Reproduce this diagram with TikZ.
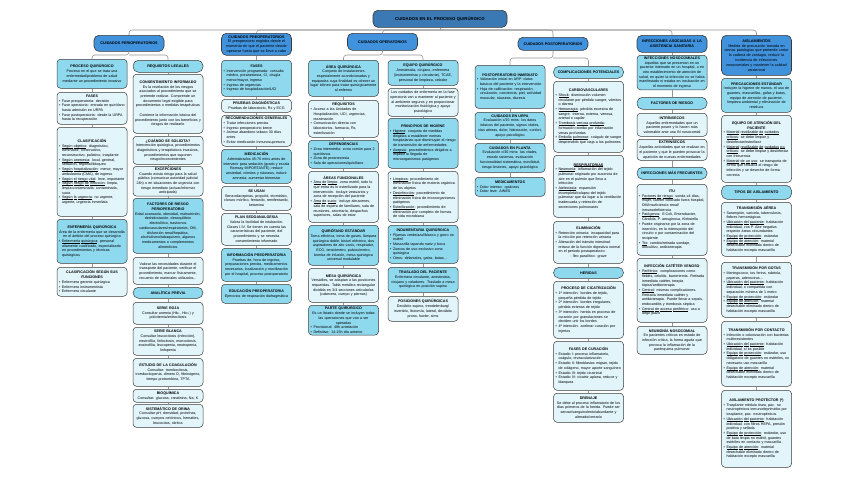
\documentclass[tikz,border=0pt]{standalone}
\usepackage{fontspec}
\setmainfont{Liberation Sans}
\usetikzlibrary{calc, positioning}

\definecolor{titblue}{HTML}{3A79B4}
\definecolor{hdrblue}{HTML}{4092DC}
\definecolor{cyanbox}{HTML}{8FD9EF}
\definecolor{lightbox}{HTML}{E1F5FB}
\definecolor{edge}{HTML}{3A3A3A}
\definecolor{wire}{HTML}{959595}

% box title and bullet item
\newcommand{\ttl}[1]{\centering{\bfseries #1}\par}
\newcommand{\itm}[1]{{\par\raggedright\hangindent=3pt\hangafter=1\noindent\hbox to 3pt{\textbullet\hfil}#1\par}}
% underline word by word, so that lines can still break
\makeatletter
\def\undl#1{\undl@a#1 \@nil}
\def\undl@a#1 #2\@nil{\undl@w{#1}\ifx\relax#2\relax\else\ \undl@a#2\@nil\fi}
\def\undl@w#1{\setbox0\hbox{#1}\rlap{\rule[-0.7pt]{\wd0}{0.22pt}}\box0}
\makeatother

\tikzset{
  mapbox/.style={draw=edge, line width=0.5pt, rounded corners=3.5pt, anchor=north,
    inner xsep=2pt, inner ysep=1.5pt, text width=66pt,
    font=\fontsize{3.65}{4.7}\selectfont, execute at begin node=\centering},
  cbox/.style={mapbox, fill=cyanbox},
  lbox/.style={mapbox, fill=lightbox},
  pill/.style={mapbox, fill=cyanbox, rounded corners=5.5pt, font=\fontsize{3.7}{4.7}\selectfont\bfseries},
  hdr/.style={mapbox, fill=hdrblue, line width=0.65pt, rounded corners=5pt, font=\fontsize{3.75}{4.8}\selectfont},
  link/.style={draw=wire, line width=0.6pt, rounded corners=3pt},
  boxh/.style={minimum height=#1pt},
}

\begin{document}
\begin{tikzpicture}[x=1pt, y=-1pt]
  \path[fill=white] (0,0) rectangle (848,477);
  \useasboundingbox (0,0) rectangle (848,477);

  % Title and main branches
  \node[hdr, fill=titblue, text width=130pt, boxh=17, font=\fontsize{4.3}{5}\selectfont\bfseries] (title) at (440,10) {CUIDADOS EN EL PROCESO QUIRÚRGICO};
  \node[hdr, boxh=16, font=\fontsize{3.75}{4.8}\selectfont\bfseries] (periop) at (129,35) {CUIDADOS PERIOPERATORIOS};
  \node[hdr, boxh=22] (preop) at (256.5,33) {\ttl{CUIDADOS PREOPERATORIOS}El preoperatorio engloba desde el momento en que el paciente decide operarse hasta que se lleve a cabo};
  \node[hdr, boxh=17, font=\fontsize{3.75}{4.8}\selectfont\bfseries] (operat) at (382.5,33) {CUIDADOS OPERATORIOS};
  \node[hdr, boxh=13, font=\fontsize{3.75}{4.8}\selectfont\bfseries] (postop) at (553,37) {CUIDADOS POSTOPERATORIOS};
  \node[hdr, boxh=17, font=\fontsize{3.75}{4.8}\selectfont\bfseries] (infasist) at (672,35) {INFECCIONES ASOCIADAS A LA\\ASISTENCIA SANITARIA};
  \node[hdr, boxh=40] (aisl) at (756.5,35) {\ttl{AISLAMIENTOS}Medida de precaución tomada en ciertas patologías que pretende cortar la cadena de contagio, reducir la incidencia de infecciones nosocomiales y mantener la calidad asistencial};

  % Perioperatorios: proceso quirurgico
  \node[cbox, boxh=29] (procq) at (92,59) {\ttl{PROCESO QUIRÚRGICO}Proceso en el que se trata una enfermedad/problema de salud mediante un procedimiento invasivo};
  \node[lbox, boxh=32] (fasesA) at (92,92) {\ttl{FASES}\itm{Fase preoperatoria: decisión}\itm{Fase operatoria: entrada en quirófano hasta admisión en URPA}\itm{Fase postoperatoria: desde la URPA hasta la recuperación}};
  \node[lbox, boxh=89] (clasif) at (92,127) {\ttl{CLASIFICACIÓN}\itm{\undl{Según objetivo}: diagnóstico, eliminador, constructivo, reconstructivo, paliativo, trasplante}\itm{\undl{Según anestesia}: local, general, sedación, regional/bloqueo}\itm{\undl{Según hospitalización}: menor, mayor ambulatoria (CMA), de ingreso}\itm{\undl{Según el riesgo vital}: leve, importante}\itm{\undl{Según riesgo de infección}: limpia, limpia-contaminada, contaminada, sucia}\itm{\undl{Según la urgencia}: no urgente, urgente, urgencia inmediata}};
  \node[cbox, boxh=44] (enfq) at (92,219) {\ttl{ENFERMERÍA QUIRÚRGICA}Área de la enfermería que se desarrolla en el ámbito del proceso quirúrgico\itm{\undl{Enfermería quirúrgica}: personal altamente cualificado, especializado en procedimientos y técnicas quirúrgicas}};
  \node[lbox, boxh=29] (clasfun) at (92,267) {\ttl{CLASIFICACIÓN SEGÚN SUS\\FUNCIONES}\itm{Enfermera gerente quirúrgica}\itm{Enfermera instrumentista}\itm{Enfermera circulante}};

  % Perioperatorios: requisitos legales
  \node[pill, boxh=12] (reqleg) at (168,60) {REQUISITOS LEGALES};
  \node[lbox, boxh=59] (consent) at (168,74) {\ttl{CONSENTIMIENTO INFORMADO}Es la revelación de los riesgos asociados al procedimiento que se pretende realizar. Comprende un documento legal exigible para procedimientos o medidas terapéuticas\par\vspace{4.7pt}Contiene la información básica del procedimiento junto con los beneficios y riesgos de realizarlo};
  \node[lbox, boxh=28] (cuando) at (168,136) {\ttl{¿CUÁNDO SE SOLICITA?}Intervención quirúrgica, procedimientos diagnósticos y terapéuticos invasivos, procedimientos que suponen riesgo/inconvenientes};
  \node[lbox, boxh=29] (excep) at (168,166) {\ttl{EXCEPCIONES}Cuando exista riesgo para la salud pública (comunicar autoridad judicial 24h) o en situaciones de urgencia con riesgo inmediato (actuar/informar anticipada)};
  \node[cbox, boxh=55] (factr) at (168,198) {\ttl{FACTORES DE RIESGO\\PERIOPERATORIO}Edad avanzada, obesidad, malnutrición, deshidratación, desequilibrio electrolítico, trastornos cardiovasculares/respiratorios, DM, disfunción renal/hepática, alcoholismo/tabaquismo, algunos medicamentos o complementos alimenticios};
  \node[lbox, boxh=27] (valorar) at (168,257) {Valorar las necesidades durante el transporte del paciente, verificar el procedimiento, marcar físicamente, recuento de materiales utilizados...};
  \node[pill, boxh=11] (analit) at (168,287) {ANALÍTICA PREVIA};
  \node[lbox, boxh=22] (sroja) at (168,302) {\ttl{SERIE ROJA}Consultar anemia (Hb↓, Hto↓) y policitemia/eritrocitosis};
  \node[lbox, boxh=28] (sblanca) at (168,327) {\ttl{SERIE BLANCA}Consultar leucocitosis (infección), neutrofilia, linfocitosis, monocitosis, eosinofilia, leucopenia, neutropenia, linfopenia};
  \node[lbox, boxh=28] (coag) at (168,358) {\ttl{ESTUDIO DE LA COAGULACIÓN}Consultar: trombocitosis, trombocitopenia, dímero D, fibrinógeno, tiempo protrombina, TPTA};
  \node[lbox, boxh=13] (bioq) at (168,389) {\ttl{BIOQUÍMICA}Consultar: glucosa, creatinina, Na, K};
  \node[lbox, boxh=23] (orina) at (168,404) {\ttl{SISTEMÁTICO DE ORINA}Consultar pH, densidad, proteínas, glucosa, cuerpos cetónicos, hematíes, leucocitos, nitritos};

  % Preoperatorios
  \node[cbox, boxh=36] (fasesC) at (256.5,60) {\ttl{FASES}\itm{Intervención programada: consulta médico, preanestesia, CI, cirugía menor/mayor, ingreso}\itm{Ingreso de urgencias}\itm{Ingreso de hospitalización/UCI}};
  \node[lbox, boxh=13] (pruebas) at (256.5,99) {\ttl{PRUEBAS DIAGNÓSTICAS}Pruebas de laboratorio, Rx y ECG};
  \node[lbox, boxh=31] (recom) at (256.5,115) {\ttl{RECOMENDACIONES GENERALES}\itm{Tratar infecciones previas}\itm{Ingreso preoperatorio breve}\itm{Animar abandono tabaco 30 días antes}\itm{Evitar medicación inmunosupresora}};
  \node[cbox, boxh=34] (medic) at (256.5,149) {\ttl{MEDICACIÓN}Administrados 45-70 mins antes de intervenir para sedación (grado y escala Ramsay IMPORTANTE), reducir ansiedad, vómitos y náuseas, inducir amnesia, aumentar bienestar};
  \node[lbox, boxh=24] (seusan) at (256.5,186) {\ttl{SE USAN}Benzodiacepinas, propofol, etomidato, cloruro mórfico, fentanilo, remifentanilo, ketamina};
  \node[lbox, boxh=32] (plan) at (256.5,213) {\ttl{PLAN SEDOANALGESIA}Valora la facilidad de intubación. Clases I-IV. Se tienen en cuenta las características del paciente, del procedimiento y se necesita consentimiento informado};
  \node[cbox, boxh=33] (infop) at (256.5,248) {\ttl{INFORMACIÓN PREOPERATORIA}Pruebas de, hora de ingreso, preparaciones previas, medicamentos necesarios, localización y movilización por el hospital, proceso postoperatorio};
  \node[cbox, boxh=19] (educ) at (256.5,284) {\ttl{EDUCACIÓN PREOPERATORIA}Ejercicios de respiración diafragmática};

  % Operatorios: area quirurgica
  \node[cbox, boxh=36] (areaq) at (343.5,60) {\ttl{ÁREA QUIRÚRGICA}Conjunto de instalaciones especialmente acondicionadas y equipadas cuya finalidad es ofrecer un lugar idóneo para tratar quirúrgicamente al enfermo};
  \node[lbox, boxh=37] (reqD) at (343.5,100) {\ttl{REQUISITOS}\itm{Acceso a las Unidades de Hospitalización, UCI, urgencias, reanimación}\itm{Comunicación directa con laboratorios, farmacia, Rx, esterilización}};
  \node[cbox, boxh=28] (depend) at (343.5,140) {\ttl{DEPENDENCIAS}\itm{Zona intermedia: zona común para 2 quirófanos}\itm{Zona de preanestesia}\itm{Sala de operaciones/quirófano}};
  \node[lbox, boxh=51] (areasf) at (343.5,171) {\ttl{ÁREAS FUNCIONALES}\itm{\undl{Área de limpio}: zona estéril, todo lo que entra es lo esterilizado para la intervención. Incluye vestuarios y zona de recepción del paciente}\itm{\undl{Área de sucio}: incluye almacenes, sala de espera de familiares, sala de reuniones, secretaría, despachos superiores, salas de estar}};
  \node[cbox, boxh=40] (quirof) at (343.5,225) {\ttl{QUIRÓFANO ESTÁNDAR}Toma eléctrica, toma de gases, lámpara quirúrgica doble, bisturí eléctrico, dos aspiradores de alto vacío, respirador, ECG, tensiómetro, pulsioxímetro, bomba de infusión, mesa quirúrgica universal modulable};
  \node[lbox, boxh=34] (mesa) at (343.5,268) {\ttl{MESA QUIRÚRGICA}Versátiles, se adaptan a las posiciones requeridas. Tabla metálica rectangular dividida en 3/4 secciones articuladas (cabecera, cuerpo y piernas)};
  \node[cbox, boxh=29] (parte) at (343.5,305) {\ttl{PARTE QUIRÚRGICO}Es un listado donde se incluyen todas las operaciones que van a ser operadas\itm{Provisional: 48h antelación}\itm{Definitivo: 14-15h día anterior}};

  % Operatorios: equipo quirurgico
  \node[cbox, boxh=25] (equipo) at (423,60) {\ttl{EQUIPO QUIRÚRGICO}Anestesista, cirujano, enfermera (instrumentista y circulante), TCAE, personal de limpieza, celador};
  \node[lbox, boxh=28] (cuidE) at (423,88) {Los cuidados de enfermería en la fase operatoria van a mantener al paciente y al ambiente seguros y en proporcionar monitorización fisiológica y apoyo psicológico};
  \node[cbox, boxh=50] (higiene) at (423,118) {\ttl{PRINCIPIOS DE HIGIENE}\itm{\undl{Higiene}: conjunto de medidas dirigidas a establecer normas hospitalarias que disminuyan el riesgo de transmisión de enfermedades}\itm{\undl{Asepsia}: procedimientos dirigidos a impedir la llegada de microorganismos patógenos}};
  \node[lbox, boxh=51] (limp) at (423,171) {\itm{\undl{Limpieza}: procedimiento de eliminación física de materia orgánica de los objetos}\itm{\undl{Desinfección}: procedimiento de eliminación física de microorganismos patógenos}\itm{\undl{Esterilización}: procedimiento de eliminación por completo de formas de vida microbiana}};
  \node[cbox, boxh=38] (indum) at (423,225) {\ttl{INDUMENTARIA QUIRÚRGICA}\itm{Pijamas verde/azul/blanco y gorro no estéril}\itm{Mascarilla tapando nariz y boca}\itm{Zuecos de uso exclusivo zona quirúrgica}\itm{Otros: delantales, gafas, batas...}};
  \node[cbox, boxh=25] (trasl) at (423,267) {\ttl{TRASLADO DEL PACIENTE}Enfermera circulante, anestesista, cirujano y celadores. Traslado a mesa quirúrgica en posición supina};
  \node[lbox, boxh=25] (posic) at (423,296) {\ttl{POSICIONES QUIRÚRGICAS}Decúbito supino, trendelenburg/ invertido, litotomía, lateral, decúbito prono, fowler, sims};

  % Postoperatorios
  \node[cbox, boxh=43] (postinm) at (510,65) {\ttl{POSTOPERATORIO INMEDIATO}\itm{Valoración inicial en URP: datos básicos del paciente y la intervención}\itm{Hoja de calificación: respiración, circulación, conciencia, piel, actividad muscular, náuseas, diuresis}};
  \node[cbox, boxh=27] (urpa) at (510,112) {\ttl{CUIDADOS EN URPA}Evaluación c/15 mins: los datos básicos del paciente, signos vitales, vías aéreas, dolor, hidratación, confort, apoyo psicológico};
  \node[cbox, boxh=29] (planta) at (510,143) {\ttl{CUIDADOS EN PLANTA}Evaluación c/30 mins: las vitales, estado sistemas, evaluación funcionalidad sistemática, movilidad, riesgo lesiones, apoyo psicológico};
  \node[cbox, boxh=19] (medicam) at (510,177) {\ttl{MEDICAMENTOS}\itm{Dolor intenso: opiáceos}\itm{Dolor leve: AINES}};

  % Complicaciones potenciales
  \node[pill, boxh=12] (complic) at (588.5,66) {COMPLICACIONES POTENCIALES};
  \node[lbox, boxh=71] (cardio) at (588.5,81) {\ttl{CARDIOVASCULARES}\itm{\undl{Shock}: disminución volumen circulante por pérdida sangre, vómitos o diarrea}\itm{\undl{Hemorragia}: pérdida excesiva de sangre. Interna, externa, venosa, arterial o capilar}\itm{\undl{Trombosis venosa profunda}: formación trombo por inflamación venas profundas}\itm{\undl{Embolia pulmonar}: coágulo de sangre desprendido que viaja a los pulmones}};
  \node[lbox, boxh=62] (resp) at (588.5,155) {\ttl{\undl{RESPIRATORIAS}}\itm{\undl{Neumonía}: inflamación del tejido pulmonar originado por ausencia de aire en el pulmón que lleva a infección}\itm{\undl{Atelectasia}: expansión incompleta/colapso del tejido pulmonar que da lugar a la ventilación inadecuada y retención de secreciones pulmonares}};
  \node[lbox, boxh=42] (elim) at (588.5,221) {\ttl{ELIMINACIÓN}\itm{Retención urinaria: incapacidad para la micción por retención urinaria}\itm{Alteración del tránsito intestinal: retraso de la función digestiva normal en el periodo postoperatorio.}- Íleo paralítico: grave};
  \node[pill, boxh=11] (heridas) at (588.5,267) {HERIDAS};
  \node[lbox, boxh=57] (cicat) at (588.5,281) {\ttl{PROCESO DE CICATRIZACIÓN}\itm{1ª intención: bordes de tejido, pequeña pérdida de tejido}\itm{2ª intención: bordes irregulares, pérdida extensa de tejido}\itm{3ª intención: herida en proceso de curación por granulaciones se deciden unir los bordes}\itm{4ª intención: acelerar curación por injertos}};
  \node[lbox, boxh=49] (fcur) at (588.5,341) {\ttl{FASES DE CURACIÓN}\itm{Estadio I: proceso inflamatorio, coágulo, revascularización}\itm{Estadio II: fibroblastos migran, tejido de colágeno, mayor aporte sanguíneo}\itm{Estadio III: tejido cicatricial}\itm{Estadio IV: cicatriz aplana, reduce y blanquea}};
  \node[lbox, boxh=29] (dren) at (588.5,393) {\ttl{DRENAJE}Se debe al proceso inflamatorio de los días primeros de la herida. Puede ser seroso/sanguinolento/abundante y alterado/cerrado};

  % Infecciones asociadas a la asistencia sanitaria
  \node[cbox, boxh=34] (nosoc) at (672,55) {\ttl{INFECCIONES NOSOCOMIALES}Aquellas que se presentan en un paciente internado en un hospital, o en otro establecimiento de atención de salud, en quien la infección no se había manifestado ni estaba en incubación en el momento de ingreso};
  \node[pill, boxh=12] (factH) at (672,97) {FACTORES DE RIESGO};
  \node[lbox, boxh=23] (intr) at (672,113) {\ttl{INTRÍNSECOS}Aquellas enfermedades que un paciente posee y lo hacen más vulnerable ante una IN nosocomial};
  \node[lbox, boxh=21] (extr) at (672,139) {\ttl{EXTRÍNSECOS}Aquellas actividades que se realizan en el paciente y que le pueden provocar la aparición de nuevas enfermedades};
  \node[pill, boxh=12] (infrec) at (672,167) {INFECCIONES MÁS FRECUENTES};
  \node[lbox, boxh=71] (itu) at (672,184) {\ttl{ITU}\itm{\undl{Factores de riesgo}: sonda ≥4 días, mujer, catéter colocado fuera hospital, DM/insuficiencia renal/ inmunodeficiencia}\itm{\undl{Patógenos}: E.Coli, Enterobacter, Cándida, P. aeruginosa, Klebsiella}\itm{Puede originarse por la zona de inserción, en la interrupción del circuito o por contaminación del recipiente}\itm{\undl{Tto}: cambio/retirada sondaje, urocultivo, antibioterapia}};
  \node[lbox, boxh=64] (cateter) at (672,258) {\ttl{INFECCIÓN CATÉTER VENOSO}\itm{\undl{Periférico}: complicaciones como flebitis, celulitis, bacteriemia. Retirada inmediata catéter, terapia tópica/antibioterapia}\itm{\undl{Central}: mismas complicaciones. Retirada inmediata catéter y antibioterapia. Puede llevar a sepsis, endocarditis y trombosis séptica}\itm{\undl{Central de acceso periférico}: uso a largo plazo}};
  \node[lbox, boxh=28] (neum) at (672,326) {\ttl{NEUMONÍA NOSOCOMIAL}En pacientes críticos en estado de infección crítica, la forma aguda que provoca la inflamación de la parénquima pulmonar};

  % Aislamientos
  \node[cbox, boxh=34] (precest) at (756.5,78) {\ttl{PRECAUCIONES ESTÁNDAR}Incluyen la higiene de manos, el uso de guantes, mascarillas, gafas y batas, equipo de atención de paciente, limpieza ambiental y eliminación de residuos};
  \node[lbox, boxh=67] (equipI) at (756.5,115) {\ttl{EQUIPO DE ATENCIÓN DEL\\PACIENTE}\itm{\undl{Material reutilizable de cuidados críticos}: se debe limpiar y desinfectar/esterilizar}\itm{\undl{Material reutilizable de cuidados no críticos}: se debe limpiar y desinfectar con frecuencia}\itm{\undl{Material de un uso}: se transporta de forma que reduzca el riesgo de infección y se deseche de forma correcta}};
  \node[pill, boxh=14] (tiposA) at (756.5,185) {TIPOS DE AISLAMIENTO};
  \node[lbox, boxh=54] (aerea) at (756.5,202) {\ttl{TRANSMISIÓN AÉREA}\itm{Sarampión, varicela, tuberculosis, fiebres hemorrágicas}\itm{\undl{Ubicación del paciente}: habitación individual, con P. Aire negativa respecto áreas circundantes}\itm{\undl{Equipo de protección}: estándar}\itm{\undl{Equipo de atención}: material desechable eliminado dentro de habitación excepto mascarilla}};
  \node[lbox, boxh=55] (gotas) at (756.5,262) {\ttl{TRANSMISIÓN POR GOTAS}\itm{Meningococo, tos ferina, rubéola, paperas, adenovirus...}\itm{\undl{Ubicación del paciente}: habitación individual, o compartida con separación mínima de 1 metro}\itm{\undl{Equipo de protección}: estándar}\itm{\undl{Equipo de atención}: material desechable eliminado dentro de habitación excepto mascarilla}};
  \node[lbox, boxh=65] (contacto) at (756.5,321) {\ttl{TRANSMISIÓN POR CONTACTO}\itm{Infección o colonización con bacterias multirresistentes}\itm{\undl{Ubicación del paciente}: habitación individual, si es posible}\itm{\undl{Equipo de protección}: estándar, uso obligatorio de guantes no estériles, no necesario uso mascarilla}\itm{\undl{Equipo de atención}: material desechable eliminado dentro de habitación excepto mascarilla}};
  \node[lbox, boxh=77] (protector) at (756.5,390) {\ttl{AISLAMIENTO PROTECTOR (*)}\itm{Trasplante médula ósea, pac. no neutropénicos inmunodeprimidos por trasplante, pac. neutropénicos}\itm{\undl{Ubicación del paciente}: habitación individual, con filtros HEPA, presión positiva y sellada}\itm{\undl{Equipo de protección}: estándar, uso de bata limpia no estéril, guantes estériles en contacto y mascarilla}\itm{\undl{Equipo de atención}: material desechable eliminado dentro de habitación excepto mascarilla}};

  % Main bus from the title
  \coordinate (bus) at (440,30);
  \draw[link] (title.south) -- (bus);
  \foreach \h in {periop, preop, operat, postop, infasist, aisl}
    \draw[link] (bus) -| (\h.north);

  % Forks
  \coordinate (forkperi) at (129,55);
  \draw[link] (periop.south) -- (forkperi) -| (procq.north);
  \draw[link] (forkperi) -| (reqleg.north);
  \coordinate (forkop) at (382.5,55);
  \draw[link] (operat.south) -- (forkop) -| (areaq.north);
  \draw[link] (forkop) -| (equipo.north);
  \coordinate (forkpost) at (553,58);
  \draw[link] (postop.south) -- (forkpost) -| (postinm.north);
  \draw[link] (forkpost) -| (complic.north);

  % Chains down each column
  \foreach \a/\b in {procq/fasesA, fasesA/clasif, clasif/enfq, enfq/clasfun,
      reqleg/consent, consent/cuando, cuando/excep, excep/factr, factr/valorar, valorar/analit,
      analit/sroja, sroja/sblanca, sblanca/coag, coag/bioq, bioq/orina,
      preop/fasesC, fasesC/pruebas, pruebas/recom, recom/medic, medic/seusan, seusan/plan, plan/infop, infop/educ,
      areaq/reqD, reqD/depend, depend/areasf, areasf/quirof, quirof/mesa, mesa/parte,
      equipo/cuidE, cuidE/higiene, higiene/limp, limp/indum, indum/trasl, trasl/posic,
      postinm/urpa, urpa/planta, planta/medicam,
      complic/cardio, cardio/resp, resp/elim, elim/heridas, heridas/cicat, cicat/fcur, fcur/dren,
      infasist/nosoc, nosoc/factH, factH/intr, intr/extr, extr/infrec, infrec/itu, itu/cateter, cateter/neum,
      aisl/precest, precest/equipI, equipI/tiposA, tiposA/aerea, aerea/gotas, gotas/contacto, contacto/protector}
    \draw[link] (\a.south) -- (\b.north);
\end{tikzpicture}
\end{document}
